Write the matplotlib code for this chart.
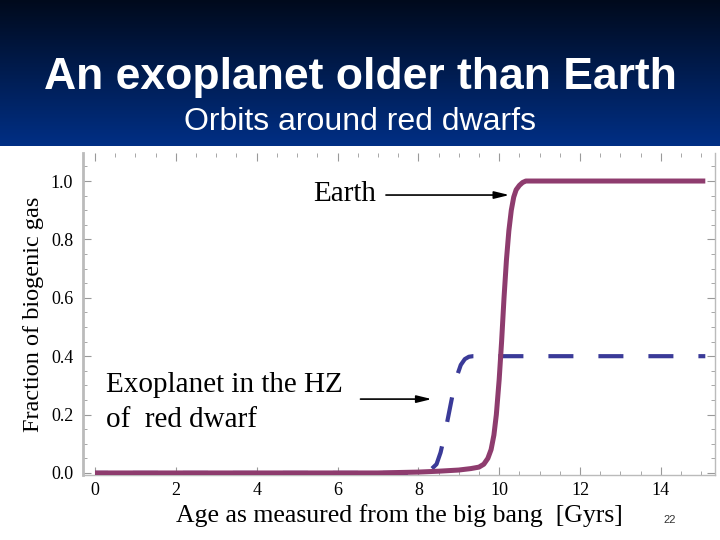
import numpy as np
import matplotlib
matplotlib.use("Agg")
import matplotlib.pyplot as plt
from matplotlib.ticker import MultipleLocator

# ---- data ----
earth_x = [0, 6, 7, 8, 8.5, 9.0, 9.3, 9.5, 9.62, 9.72, 9.8, 9.87, 9.93, 10.0, 10.06, 10.12, 10.18,
           10.24, 10.3, 10.36, 10.42, 10.5, 10.58, 10.66, 12, 15.1]
earth_y = [0, 0, 0.0, 0.003, 0.006, 0.01, 0.015, 0.02, 0.03, 0.05, 0.08, 0.13, 0.2, 0.32, 0.45,
           0.6, 0.73, 0.83, 0.9, 0.945, 0.97, 0.985, 0.995, 1.0, 1.0, 1.0]
exo_x = [0, 7, 8.0, 8.3, 8.45, 8.55, 8.65, 8.75, 8.85, 8.95, 9.05, 9.15, 9.25, 9.35, 12, 15.1]
exo_y = [0, 0, 0.0, 0.01, 0.03, 0.07, 0.13, 0.2, 0.27, 0.33, 0.37, 0.39, 0.398, 0.4, 0.4, 0.4]

title = "An exoplanet older than Earth"
subtitle = "Orbits around red dwarfs"
xlabel = "Age as measured from the big bang  [Gyrs]"
ylabel = "Fraction of biogenic gas"
page_no = "22"

serif = ["Liberation Serif", "DejaVu Serif"]
sans = ["Liberation Sans", "DejaVu Sans"]

fig = plt.figure(figsize=(7.2, 5.4), dpi=100)
fig.patch.set_facecolor("white")

# header gradient
hdr = fig.add_axes([0, 1 - 146 / 540, 1, 146 / 540])
grad = np.linspace(0, 1, 256).reshape(-1, 1)
top_c = np.array([0x00, 0x0a, 0x1c]) / 255
bot_c = np.array([0x00, 0x2f, 0x85]) / 255
img = top_c + (bot_c - top_c) * grad[..., None]
hdr.imshow(img, aspect="auto", extent=[0, 1, 0, 1], origin="upper")
hdr.set_axis_off()
hdr.text(0.5, 1 - 78 / 146, title, color="white", fontsize=32, fontweight="bold",
         family=sans, ha="center", va="center")
hdr.text(0.5, 1 - 122 / 146, subtitle, color="white", fontsize=23,
         family=sans, ha="center", va="center")

# main plot
ax = fig.add_axes([83 / 720, 1 - 475 / 540, (715 - 83) / 720, (475 - 153) / 540])
ax.plot(exo_x, exo_y, color="#3a3a98", lw=3.0, linestyle=(2.9, (6, 6)), zorder=2)
ax.plot(earth_x, earth_y, color="#8e3c6e", lw=3.6, zorder=3, solid_capstyle="butt")

ax.set_xlim(-0.297, 15.34)
ax.set_ylim(-0.007, 1.096)
ax.xaxis.set_minor_locator(MultipleLocator(0.5))
ax.yaxis.set_minor_locator(MultipleLocator(0.05))
ax.tick_params(which="both", direction="in", top=True, right=True, colors="#999999",
               labelcolor="black")
ax.tick_params(which="major", length=6, width=0.8, labelsize=13)
ax.tick_params(which="minor", length=3, width=0.6)
ax.tick_params(axis="y", pad=7)
ax.tick_params(axis="x", pad=5)
ax.set_xticks([0, 2, 4, 6, 8, 10, 12, 14])
ax.set_xticklabels(["0", "2", "4", "6", "8", "10", "12", "14"], family=serif)
ax.set_yticks([0, 0.2, 0.4, 0.6, 0.8, 1.0])
ax.set_yticklabels(["0.0", "0.2", "0.4", "0.6", "0.8", "1.0"], family=serif)
for s in ax.spines.values():
    s.set_color("#bbbbbb")
    s.set_linewidth(1.0)
ax.spines["left"].set_linewidth(2.0)
ax.spines["top"].set_visible(False)

ax.set_xlabel(xlabel, family=serif, fontsize=18.5, labelpad=4)
ax.set_ylabel(ylabel, family=serif, fontsize=17.5, labelpad=5)

ax.annotate("", xy=(10.32, 0.952), xytext=(7.13, 0.952),
            arrowprops=dict(arrowstyle="-|>,head_length=0.9,head_width=0.22", color="black", lw=1.2))
ax.text(6.95, 0.957, "Earth", family=serif, fontsize=21, ha="right", va="center")
ax.annotate("", xy=(8.4, 0.253), xytext=(6.5, 0.253),
            arrowprops=dict(arrowstyle="-|>,head_length=0.9,head_width=0.22", color="black", lw=1.2))
ax.text(0.28, 0.303, "Exoplanet in the HZ", family=serif, fontsize=21, ha="left", va="center")
ax.text(0.28, 0.183, "of  red dwarf", family=serif, fontsize=21, ha="left", va="center")

fig.text(670 / 720, 1 - 520 / 540, page_no, fontsize=8, color="#333333", family=sans,
         ha="center", va="center")

fig.savefig("out.png", dpi=100)
